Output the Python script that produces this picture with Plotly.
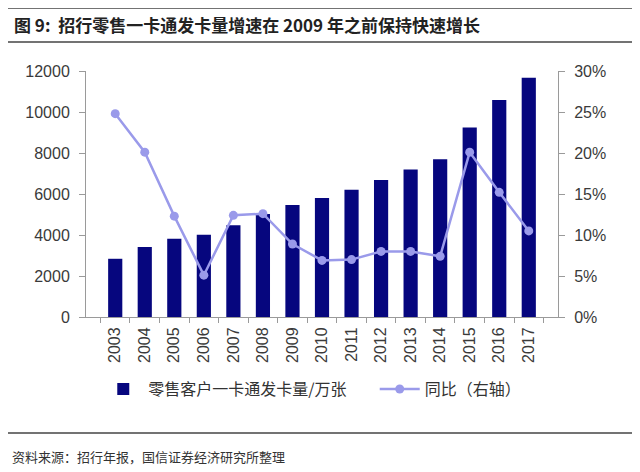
import plotly.graph_objects as go

# data
years = ['2003', '2004', '2005', '2006', '2007', '2008', '2009', '2010',
         '2011', '2012', '2013', '2014', '2015', '2016', '2017']
cards = [2840, 3410, 3820, 4010, 4480, 5020, 5460, 5800,
         6210, 6680, 7200, 7700, 9250, 10580, 11670]
yoy = [0.248, 0.201, 0.123, 0.051, 0.124, 0.126, 0.089, 0.069,
       0.070, 0.080, 0.080, 0.074, 0.201, 0.152, 0.105]

title_txt = '<b>图 9:  招行零售一卡通发卡量增速在 2009 年之前保持快速增长</b>'
source_txt = '资料来源：招行年报，国信证券经济研究所整理'

bar_col = '#06067e'
line_col = '#9a9aea'
axis_col = '#9a9a9a'
tick_font = dict(family='Liberation Sans, Arial', size=16, color='#3a3a3a')
cjk = 'Noto Sans CJK SC'

fig = go.Figure()

# trailing spaces keep the gap between legend entries
fig.add_trace(go.Bar(x=years, y=cards,
                     name='零售客户一卡通发卡量/万张\u3000\u00a0\u00a0',
                     marker_color=bar_col,
                     marker_line_width=0))
fig.add_trace(go.Scatter(x=years, y=yoy,
                         mode='lines+markers',
                         name='同比（右轴）',
                         line=dict(color=line_col, width=2.5),
                         marker=dict(color=line_col, size=9),
                         yaxis='y2'))

# page body adds 8px margin, so the figure is 8px smaller
fig.update_layout(
    width=632, height=464,
    margin=dict(l=78, r=82, t=63, b=155, autoexpand=False),
    paper_bgcolor='white', plot_bgcolor='white',
    bargap=0.52,
    showlegend=True,
    legend=dict(orientation='h', x=0.026, xanchor='left',
                y=-0.293, yanchor='middle',
                font=dict(family=cjk, size=16, color='#333333'),
                itemwidth=40,
                bgcolor='rgba(0,0,0,0)'),
    xaxis=dict(type='category', tickangle=-90,
               showline=True, linecolor=axis_col, linewidth=1,
               ticks='outside', tickson='boundaries', ticklen=5,
               tickcolor=axis_col, tickfont=tick_font, ticklabelstandoff=3,
               showgrid=False, zeroline=False),
    yaxis=dict(range=[0, 12000], dtick=2000, tickformat='d',
               showline=True, linecolor=axis_col, linewidth=1,
               ticks='outside', ticklen=6, tickcolor=axis_col,
               tickfont=tick_font, ticklabelstandoff=6,
               showgrid=False, zeroline=False),
    yaxis2=dict(range=[0, 0.30], dtick=0.05, tickformat='.0%',
                overlaying='y', side='right',
                showline=True, linecolor=axis_col, linewidth=1,
                ticks='outside', ticklen=6, tickcolor=axis_col,
                tickfont=tick_font, ticklabelstandoff=6,
                showgrid=False, zeroline=False),
)

# title, rules and source note
fig.add_annotation(text=title_txt, xref='paper', yref='paper',
                   x=-0.156, y=1.187, xanchor='left', yanchor='middle',
                   showarrow=False,
                   font=dict(family=cjk, size=17, color='#222222'))
fig.add_annotation(text=source_txt, xref='paper', yref='paper',
                   x=-0.161, y=-0.569, xanchor='left', yanchor='middle',
                   showarrow=False,
                   font=dict(family=cjk, size=13, color='#333333'))

for yy in [1.256, 1.118, -0.472]:
    fig.add_shape(type='line', xref='paper', yref='paper',
                  x0=-0.172, x1=1.163, y0=yy, y1=yy,
                  line=dict(color='#444444', width=1.5))

fig.write_html('out.html')
